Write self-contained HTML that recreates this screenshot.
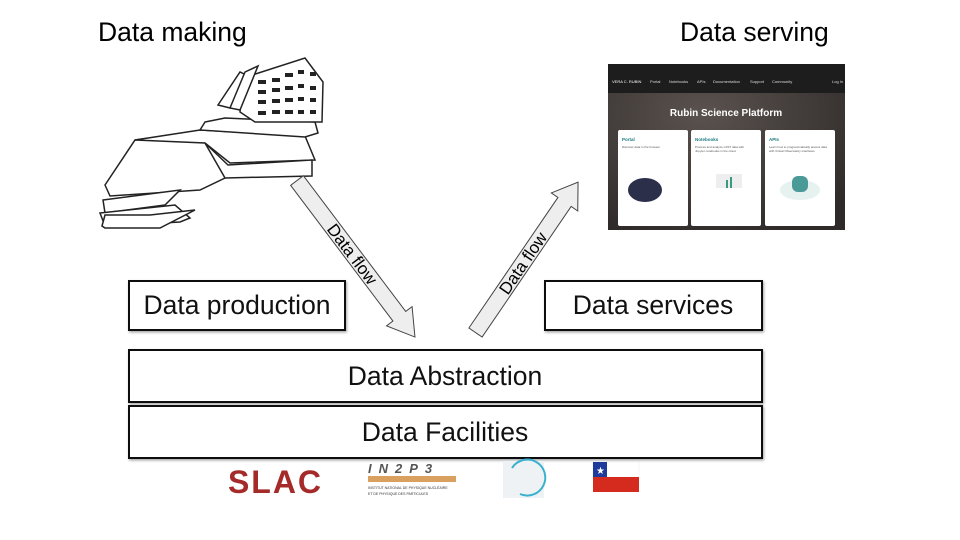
<!DOCTYPE html>
<html><head><meta charset="utf-8"><style>
body{margin:0;background:#fff;}
svg{display:block;font-family:"Liberation Sans",Arial,sans-serif;}
</style></head><body>
<svg width="960" height="540" viewBox="0 0 960 540" xmlns="http://www.w3.org/2000/svg">
<defs>
<filter id="sh" x="-5%" y="-20%" width="110%" height="140%"><feDropShadow dx="1" dy="1.5" stdDeviation="1.2" flood-color="#000" flood-opacity="0.35"/></filter>
<radialGradient id="sky" cx="0.4" cy="0.3" r="0.8"><stop offset="0" stop-color="#5a524e"/><stop offset="1" stop-color="#2e2a29"/></radialGradient>
</defs>
<text x="98" y="41" font-size="26.5">Data making</text>
<text x="680" y="41" font-size="26.5">Data serving</text>

<!-- telescope drawing -->
<g fill="#fff" stroke="#222" stroke-width="1.5">
<polygon points="105,185 135,140 190,133 210,140 225,178 200,190 110,196"/>
<polygon points="103,200 180,190 165,205 105,213"/>
<polygon points="100,213 175,205 190,218 180,222 105,226"/>
<polygon points="102,226 105,215 150,215 195,210 160,228 105,228"/>
<polygon points="135,140 200,130 305,136 315,160 230,163 205,143"/>
<polygon points="205,143 228,165 312,160 312,176 225,178"/>
<polygon points="205,122 225,118 315,122 318,133 305,137 200,130"/>
<polygon points="243,78 305,58 323,82 322,122 255,122 240,112"/>
<polygon points="218,105 240,72 248,76 230,108"/>
<polygon points="230,108 245,72 258,66 240,110"/>
</g>
<g fill="#222">
<rect x="258" y="80" width="8" height="4"/><rect x="272" y="78" width="8" height="4"/><rect x="285" y="73" width="8" height="4"/><rect x="298" y="70" width="6" height="4"/><rect x="310" y="72" width="6" height="4"/>
<rect x="258" y="90" width="8" height="4"/><rect x="272" y="88" width="8" height="4"/><rect x="285" y="86" width="8" height="4"/><rect x="298" y="84" width="6" height="4"/><rect x="310" y="86" width="6" height="4"/>
<rect x="258" y="100" width="8" height="4"/><rect x="272" y="99" width="8" height="4"/><rect x="285" y="98" width="8" height="4"/><rect x="298" y="97" width="6" height="4"/><rect x="310" y="98" width="6" height="4"/>
<rect x="258" y="111" width="8" height="4"/><rect x="272" y="110" width="8" height="4"/><rect x="285" y="110" width="8" height="4"/><rect x="298" y="110" width="6" height="4"/><rect x="310" y="110" width="6" height="4"/>
</g>

<!-- screenshot -->
<rect x="608" y="64" width="237" height="166" fill="url(#sky)"/>
<rect x="608" y="64" width="237" height="29" fill="#1d1d1d"/>
<text x="612" y="83" font-size="4" fill="#fff">VERA C. RUBIN</text>
<g font-size="4" fill="#ddd"><text x="650" y="83">Portal</text><text x="669" y="83">Notebooks</text><text x="697" y="83">APIs</text><text x="713" y="83">Documentation</text><text x="750" y="83">Support</text><text x="772" y="83">Community</text><text x="832" y="83">Log In</text></g>
<text x="726" y="116" font-size="10" font-weight="bold" fill="#fff" text-anchor="middle">Rubin Science Platform</text>
<g fill="#fff"><rect x="618" y="130" width="70" height="96" rx="2"/><rect x="691" y="130" width="70" height="96" rx="2"/><rect x="765" y="130" width="70" height="96" rx="2"/></g>
<g font-size="4.5" font-weight="bold" fill="#1a7a80"><text x="622" y="141">Portal</text><text x="695" y="141">Notebooks</text><text x="769" y="141">APIs</text></g>
<g font-size="3" fill="#555"><text x="622" y="148">Discover data in the browser</text><text x="695" y="148">Process and analyze LSST data with</text><text x="695" y="152">Jupyter notebooks in the cloud</text><text x="769" y="148">Learn how to programmatically access data</text><text x="769" y="152">with Virtual Observatory interfaces</text></g>
<ellipse cx="645" cy="190" rx="17" ry="12" fill="#2c2f4a"/>
<rect x="716" y="174" width="26" height="14" fill="#eee"/>
<rect x="726" y="180" width="2" height="8" fill="#3a9a80"/><rect x="730" y="177" width="2" height="11" fill="#3a9a80"/>
<ellipse cx="800" cy="190" rx="20" ry="10" fill="#e6f2f0"/>
<rect x="792" y="176" width="16" height="16" rx="6" fill="#4a9a98"/>

<!-- arrows -->
<g transform="translate(297,180.5) rotate(53)">
<polygon points="0,-8 170,-8 170,-16 196,0 170,16 170,8 0,8" fill="#eee" stroke="#444" stroke-width="1"/>
<text x="92" y="6" font-size="17" text-anchor="middle">Data flow</text>
</g>
<g transform="translate(475.5,332.5) rotate(-55.7)">
<polygon points="0,-8 158,-8 158,-16 182,0 158,16 158,8 0,8" fill="#eee" stroke="#444" stroke-width="1"/>
<text x="84" y="6" font-size="17" text-anchor="middle">Data flow</text>
</g>

<!-- boxes -->
<g fill="#fff" stroke="#111" stroke-width="2" filter="url(#sh)">
<rect x="129" y="281" width="216" height="49"/>
<rect x="545" y="281" width="217" height="49"/>
<rect x="129" y="350" width="633" height="52"/>
<rect x="129" y="406" width="633" height="52"/>
</g>
<g font-size="26.5" text-anchor="middle" fill="#111">
<text x="237" y="314">Data production</text>
<text x="653" y="314">Data services</text>
<text x="445" y="385">Data Abstraction</text>
<text x="445" y="441">Data Facilities</text>
</g>

<!-- logos -->
<text x="228" y="493" font-size="32" font-weight="bold" fill="#a52a2a" letter-spacing="2" textLength="95">SLAC</text>
<text x="368" y="473" font-size="13" font-weight="bold" font-style="italic" fill="#555" letter-spacing="7">IN2P3</text>
<rect x="368" y="476" width="88" height="6" fill="#d9a060"/>
<text x="368" y="489" font-size="3.5" fill="#333">INSTITUT NATIONAL DE PHYSIQUE NUCLÉAIRE</text>
<text x="368" y="495" font-size="3.5" fill="#333">ET DE PHYSIQUE DES PARTICULES</text>
<rect x="503" y="461" width="41" height="37" fill="#eef2f4"/>
<path d="M512,468 A18,18 0 1,1 520,494" fill="none" stroke="#3ab0d0" stroke-width="2"/>
<rect x="593" y="462" width="46" height="15" fill="#fff" stroke="#eee" stroke-width="0.5"/>
<rect x="593" y="462" width="14" height="15" fill="#1e3a9a"/>
<text x="596" y="474" font-size="10" fill="#fff">★</text>
<rect x="593" y="477" width="46" height="15" fill="#d52b1e"/>
</svg>
</body></html>
